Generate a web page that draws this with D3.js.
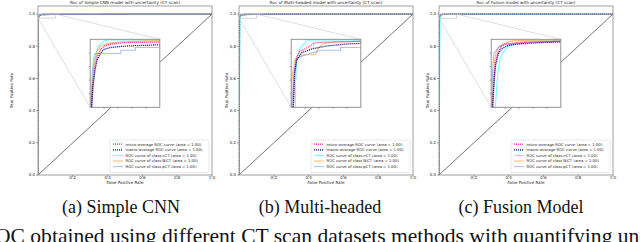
<!DOCTYPE html>
<html>
<head>
<meta charset="utf-8">
<script src="https://cdn.jsdelivr.net/npm/d3@7"></script>
<style>
  body { margin: 0; background: #fff; }
  svg text { font-family: "DejaVu Sans", sans-serif; fill: #222; }
  .cap { font-family: "Liberation Serif", "Times New Roman", serif; fill: #111; }
</style>
</head>
<body>
<div id="fig"></div>
<script>
// ---- data ----
var panelTitles = ["Roc of Simple CNN model with uncertainty (CT scan)",
                   "Roc of Multi-headed model with uncertainty (CT scan)",
                   "Roc of Fusion model with uncertainty (CT scan)"];
var captions = ["(a) Simple CNN", "(b) Multi-headed", "(c) Fusion Model"];
var bottomLine = "ROC obtained using different CT scan datasets methods with quantifying uncertainty";
var seriesNames = ["micro-average ROC curve (area = 1.00)",
                   "macro-average ROC curve (area = 1.00)",
                   "ROC curve of class nCT (area = 1.00)",
                   "ROC curve of class NiCT (area = 1.00)",
                   "ROC curve of class pCT (area = 1.00)"];
var yTicks = [0.0, 0.2, 0.4, 0.6, 0.8, 1.0];
var xTicks = [0.2, 0.4, 0.6, 0.8, 1.0];
var zoomX = [0, 0.1];
var zoomY = [0.975, 1.0];

// [fpr, tpr] points inside the zoomed region, (0,0) and (1,1) added later
var simpleMicro = [[0.002,0.975],[0.004,0.9838],[0.007,0.99],[0.01,0.9938],[0.015,0.9963],[0.02,0.9975],[0.03,0.9983],[0.05,0.9988],[0.1,0.999]];
var simpleMacro = [[0.002,0.975],[0.004,0.9825],[0.007,0.9888],[0.01,0.9925],[0.015,0.995],[0.02,0.9963],[0.03,0.997],[0.05,0.9975],[0.08,0.9978],[0.1,0.998]];
var simpleNCT   = [[0.002,0.975],[0.003,0.9825],[0.005,0.99],[0.008,0.9945],[0.012,0.9975],[0.02,0.9993],[0.025,0.9998],[0.1,0.9998]];
var simpleNiCT  = [[0.0015,0.975],[0.003,0.9838],[0.006,0.9913],[0.01,0.9955],[0.015,0.9975],[0.025,0.9985],[0.04,0.999],[0.06,0.9993],[0.1,0.9995]];
var simplePCT   = [[0.001,0.975],[0.003,0.9875],[0.005,0.993],[0.007,0.9948],[0.044,0.9948],[0.044,0.996],[0.065,0.996],[0.065,0.997],[0.1,0.997]];

var multiMicro = [[0.003,0.975],[0.005,0.9888],[0.007,0.993],[0.012,0.9955],[0.02,0.9965],[0.03,0.998],[0.035,0.9988],[0.06,0.999],[0.1,0.9993]];
var multiMacro = [[0.003,0.975],[0.005,0.9875],[0.008,0.9925],[0.015,0.995],[0.03,0.9965],[0.05,0.9975],[0.08,0.9983],[0.1,0.9985]];
var multiNCT   = [[0.006,0.975],[0.0065,0.985],[0.008,0.9925],[0.012,0.9963],[0.015,0.9973],[0.02,0.9988],[0.022,0.9998],[0.1,0.9998]];
var multiNiCT  = [[0.0005,0.975],[0.001,0.985],[0.005,0.992],[0.01,0.9933],[0.018,0.9943],[0.035,0.9943],[0.038,0.9963],[0.045,0.9983],[0.06,0.999],[0.1,0.9993]];
var multiPCT   = [[0.001,0.975],[0.004,0.9875],[0.008,0.9925],[0.015,0.9938],[0.03,0.995],[0.044,0.996],[0.071,0.996],[0.071,0.997],[0.1,0.997]];

var fusionMicro = [[0.002,0.975],[0.004,0.985],[0.006,0.9913],[0.01,0.9955],[0.015,0.9975],[0.02,0.9983],[0.04,0.9988],[0.07,0.999],[0.1,0.9993]];
var fusionMacro = [[0.002,0.975],[0.004,0.9838],[0.006,0.99],[0.01,0.9945],[0.015,0.9965],[0.025,0.9978],[0.04,0.9983],[0.07,0.9988],[0.1,0.999]];
var fusionNCT   = [[0.006,0.975],[0.008,0.9825],[0.01,0.9888],[0.013,0.993],[0.018,0.9955],[0.025,0.9975],[0.035,0.9988],[0.05,0.9993],[0.1,0.9995]];
var fusionNiCT  = [[0.002,0.975],[0.003,0.985],[0.005,0.9925],[0.008,0.9963],[0.015,0.998],[0.025,0.999],[0.032,0.9995],[0.1,0.9998]];
var fusionPCT   = [[0.001,0.975],[0.002,0.9888],[0.004,0.995],[0.008,0.996],[0.012,0.9975],[0.02,0.998],[0.045,0.9985],[0.05,0.999],[0.1,0.9993]];

var panelSeries = [
  [simpleMicro, simpleMacro, simpleNCT, simpleNiCT, simplePCT],
  [multiMicro, multiMacro, multiNCT, multiNiCT, multiPCT],
  [fusionMicro, fusionMacro, fusionNCT, fusionNiCT, fusionPCT]
];

// ---- styles ----
var colors = ["deeppink", "navy", "aqua", "darkorange", "cornflowerblue"];
var dashed = [true, true, false, false, false];

var W = 640, H = 242;
var panelLeft = [38, 239, 439];
var ylabelX = [12, 227, 428];
var captionX = [121, 320, 521];
var pw = 174, plotTop = 6, plotBottom = 175;

var svg = d3.select("#fig").append("svg")
    .attr("width", W).attr("height", H);

function styleLine(sel, i) {
  sel.attr("fill", "none")
    .attr("stroke", colors[i])
    .attr("stroke-width", dashed[i] ? 1.3 : 1.1)
    .attr("stroke-opacity", dashed[i] ? 1 : 0.55)
    .attr("stroke-dasharray", dashed[i] ? "1,1" : null);
}

panelSeries.forEach(function(series, p) {
  var x0 = panelLeft[p];
  var x = d3.scaleLinear().domain([0, 1]).range([x0, x0 + pw]);
  var y = d3.scaleLinear().domain([0, 1.05]).range([plotBottom, plotTop]);
  var g = svg.append("g");

  g.append("clipPath").attr("id", "clip" + p)
    .append("rect").attr("x", x0).attr("y", plotTop).attr("width", pw).attr("height", plotBottom - plotTop);

  // main curves
  var line = d3.line().x(function(d) { return x(d[0]); }).y(function(d) { return y(d[1]); });
  series.forEach(function(s, i) {
    var pts = [[0, 0]].concat(s, [[1, 1]]);
    g.append("path").datum(pts).attr("d", line)
      .attr("clip-path", "url(#clip" + p + ")")
      .call(styleLine, i);
  });

  // diagonal
  g.append("line")
    .attr("x1", x(0)).attr("y1", y(0)).attr("x2", x(1)).attr("y2", y(1))
    .attr("stroke", "#2a2a2a").attr("stroke-width", 0.65);

  // axes frame
  g.append("rect").attr("x", x0).attr("y", plotTop).attr("width", pw).attr("height", plotBottom - plotTop)
    .attr("fill", "none").attr("stroke", "#888").attr("stroke-width", 0.8);

  // ticks
  yTicks.forEach(function(t) {
    g.append("line").attr("x1", x0 - 2).attr("x2", x0).attr("y1", y(t)).attr("y2", y(t))
      .attr("stroke", "#444").attr("stroke-width", 0.5);
    g.append("text").attr("x", x0 - 3).attr("y", y(t) + 1.4)
      .attr("text-anchor", "end").attr("font-size", 4).text(t.toFixed(1));
  });
  xTicks.forEach(function(t) {
    g.append("line").attr("x1", x(t)).attr("x2", x(t)).attr("y1", plotBottom).attr("y2", plotBottom + 2)
      .attr("stroke", "#444").attr("stroke-width", 0.5);
    g.append("text").attr("x", x(t)).attr("y", 179.3)
      .attr("text-anchor", "middle").attr("font-size", 4).text(t.toFixed(1));
  });

  // labels
  g.append("text").attr("x", x0 + pw / 2).attr("y", 4.3)
    .attr("text-anchor", "middle").attr("font-size", 4.2).text(panelTitles[p]);
  g.append("text").attr("x", x0 + pw / 2).attr("y", 184.3)
    .attr("text-anchor", "middle").attr("font-size", 4).text("False Positive Rate");
  g.append("text")
    .attr("transform", "translate(" + (ylabelX[p] + 1.4) + "," + ((plotTop + plotBottom) / 2) + ") rotate(-90)")
    .attr("text-anchor", "middle").attr("font-size", 4).text("True Positive Rate");

  // zoomed inset
  var ix0 = x0 + pw * 0.3, iw = pw * 0.4;
  var iy0 = 39.3, ih = 68;
  var xi = d3.scaleLinear().domain(zoomX).range([ix0, ix0 + iw]);
  var yi = d3.scaleLinear().domain(zoomY).range([iy0 + ih, iy0]);

  // mark inset rect + connectors
  g.append("rect").attr("x", x(zoomX[0])).attr("y", y(zoomY[1]))
    .attr("width", x(zoomX[1]) - x(zoomX[0])).attr("height", y(zoomY[0]) - y(zoomY[1]))
    .attr("fill", "none").attr("stroke", "#bbb").attr("stroke-width", 0.6);
  g.append("line").attr("x1", x(zoomX[1])).attr("y1", y(zoomY[1])).attr("x2", ix0 + iw).attr("y2", iy0)
    .attr("stroke", "#c8c8c8").attr("stroke-width", 0.6);
  g.append("line").attr("x1", x(zoomX[0])).attr("y1", y(zoomY[0])).attr("x2", ix0).attr("y2", iy0 + ih)
    .attr("stroke", "#c8c8c8").attr("stroke-width", 0.6);

  g.append("rect").attr("x", ix0).attr("y", iy0).attr("width", iw).attr("height", ih).attr("fill", "#fff");
  g.append("clipPath").attr("id", "iclip" + p)
    .append("rect").attr("x", ix0).attr("y", iy0).attr("width", iw).attr("height", ih);
  var iline = d3.line().x(function(d) { return xi(d[0]); }).y(function(d) { return yi(d[1]); });
  [2, 3, 4, 0, 1].forEach(function(i) {
    var pts = [[0, 0]].concat(series[i]);
    g.append("path").datum(pts).attr("d", iline)
      .attr("clip-path", "url(#iclip" + p + ")")
      .call(styleLine, i);
  });
  g.append("rect").attr("x", ix0).attr("y", iy0).attr("width", iw).attr("height", ih)
    .attr("fill", "none").attr("stroke", "#888").attr("stroke-width", 0.9);
  [0.02, 0.04, 0.06, 0.08].forEach(function(t) {
    g.append("line").attr("x1", xi(t)).attr("x2", xi(t)).attr("y1", iy0 + ih).attr("y2", iy0 + ih + 1.5)
      .attr("stroke", "#555").attr("stroke-width", 0.5);
  });
  [0.98, 0.985, 0.99, 0.995].forEach(function(t) {
    g.append("line").attr("x1", ix0 - 1.5).attr("x2", ix0).attr("y1", yi(t)).attr("y2", yi(t))
      .attr("stroke", "#555").attr("stroke-width", 0.5);
  });

  // legend
  var lx = x0 + pw - 102, ly = 140;
  g.append("rect").attr("x", lx).attr("y", ly).attr("width", 99).attr("height", 32.5)
    .attr("rx", 1).attr("fill", "#fff").attr("stroke", "#d0d0d0").attr("stroke-width", 0.5);
  seriesNames.forEach(function(name, i) {
    var ry = ly + 4.2 + i * 5.6;
    g.append("line").attr("x1", lx + 3).attr("x2", lx + 13).attr("y1", ry).attr("y2", ry)
      .call(styleLine, i);
    g.append("text").attr("x", lx + 15.5).attr("y", ry + 1.3).attr("font-size", 3.8).text(name);
  });

  // caption
  svg.append("text").attr("class", "cap").attr("x", captionX[p]).attr("y", 213)
    .attr("text-anchor", "middle").attr("font-size", 18).text(captions[p]);
});

// bottom caption line: fit so "obtained" starts at x=25 and "quantifying un" ends at the right edge
var probe = svg.append("text").attr("class", "cap").attr("font-size", 20);
probe.text("ROC ");
var w1 = probe.node().getComputedTextLength();
probe.text("ROC obtained using different CT scan datasets methods with quantifying un");
var w2 = probe.node().getComputedTextLength();
probe.remove();
var k = (W - 25) / (w2 - w1);
svg.append("text").attr("class", "cap").attr("x", 25 - w1 * k).attr("y", 242.5)
  .attr("font-size", 20 * k).text(bottomLine);
</script>
</body>
</html>
